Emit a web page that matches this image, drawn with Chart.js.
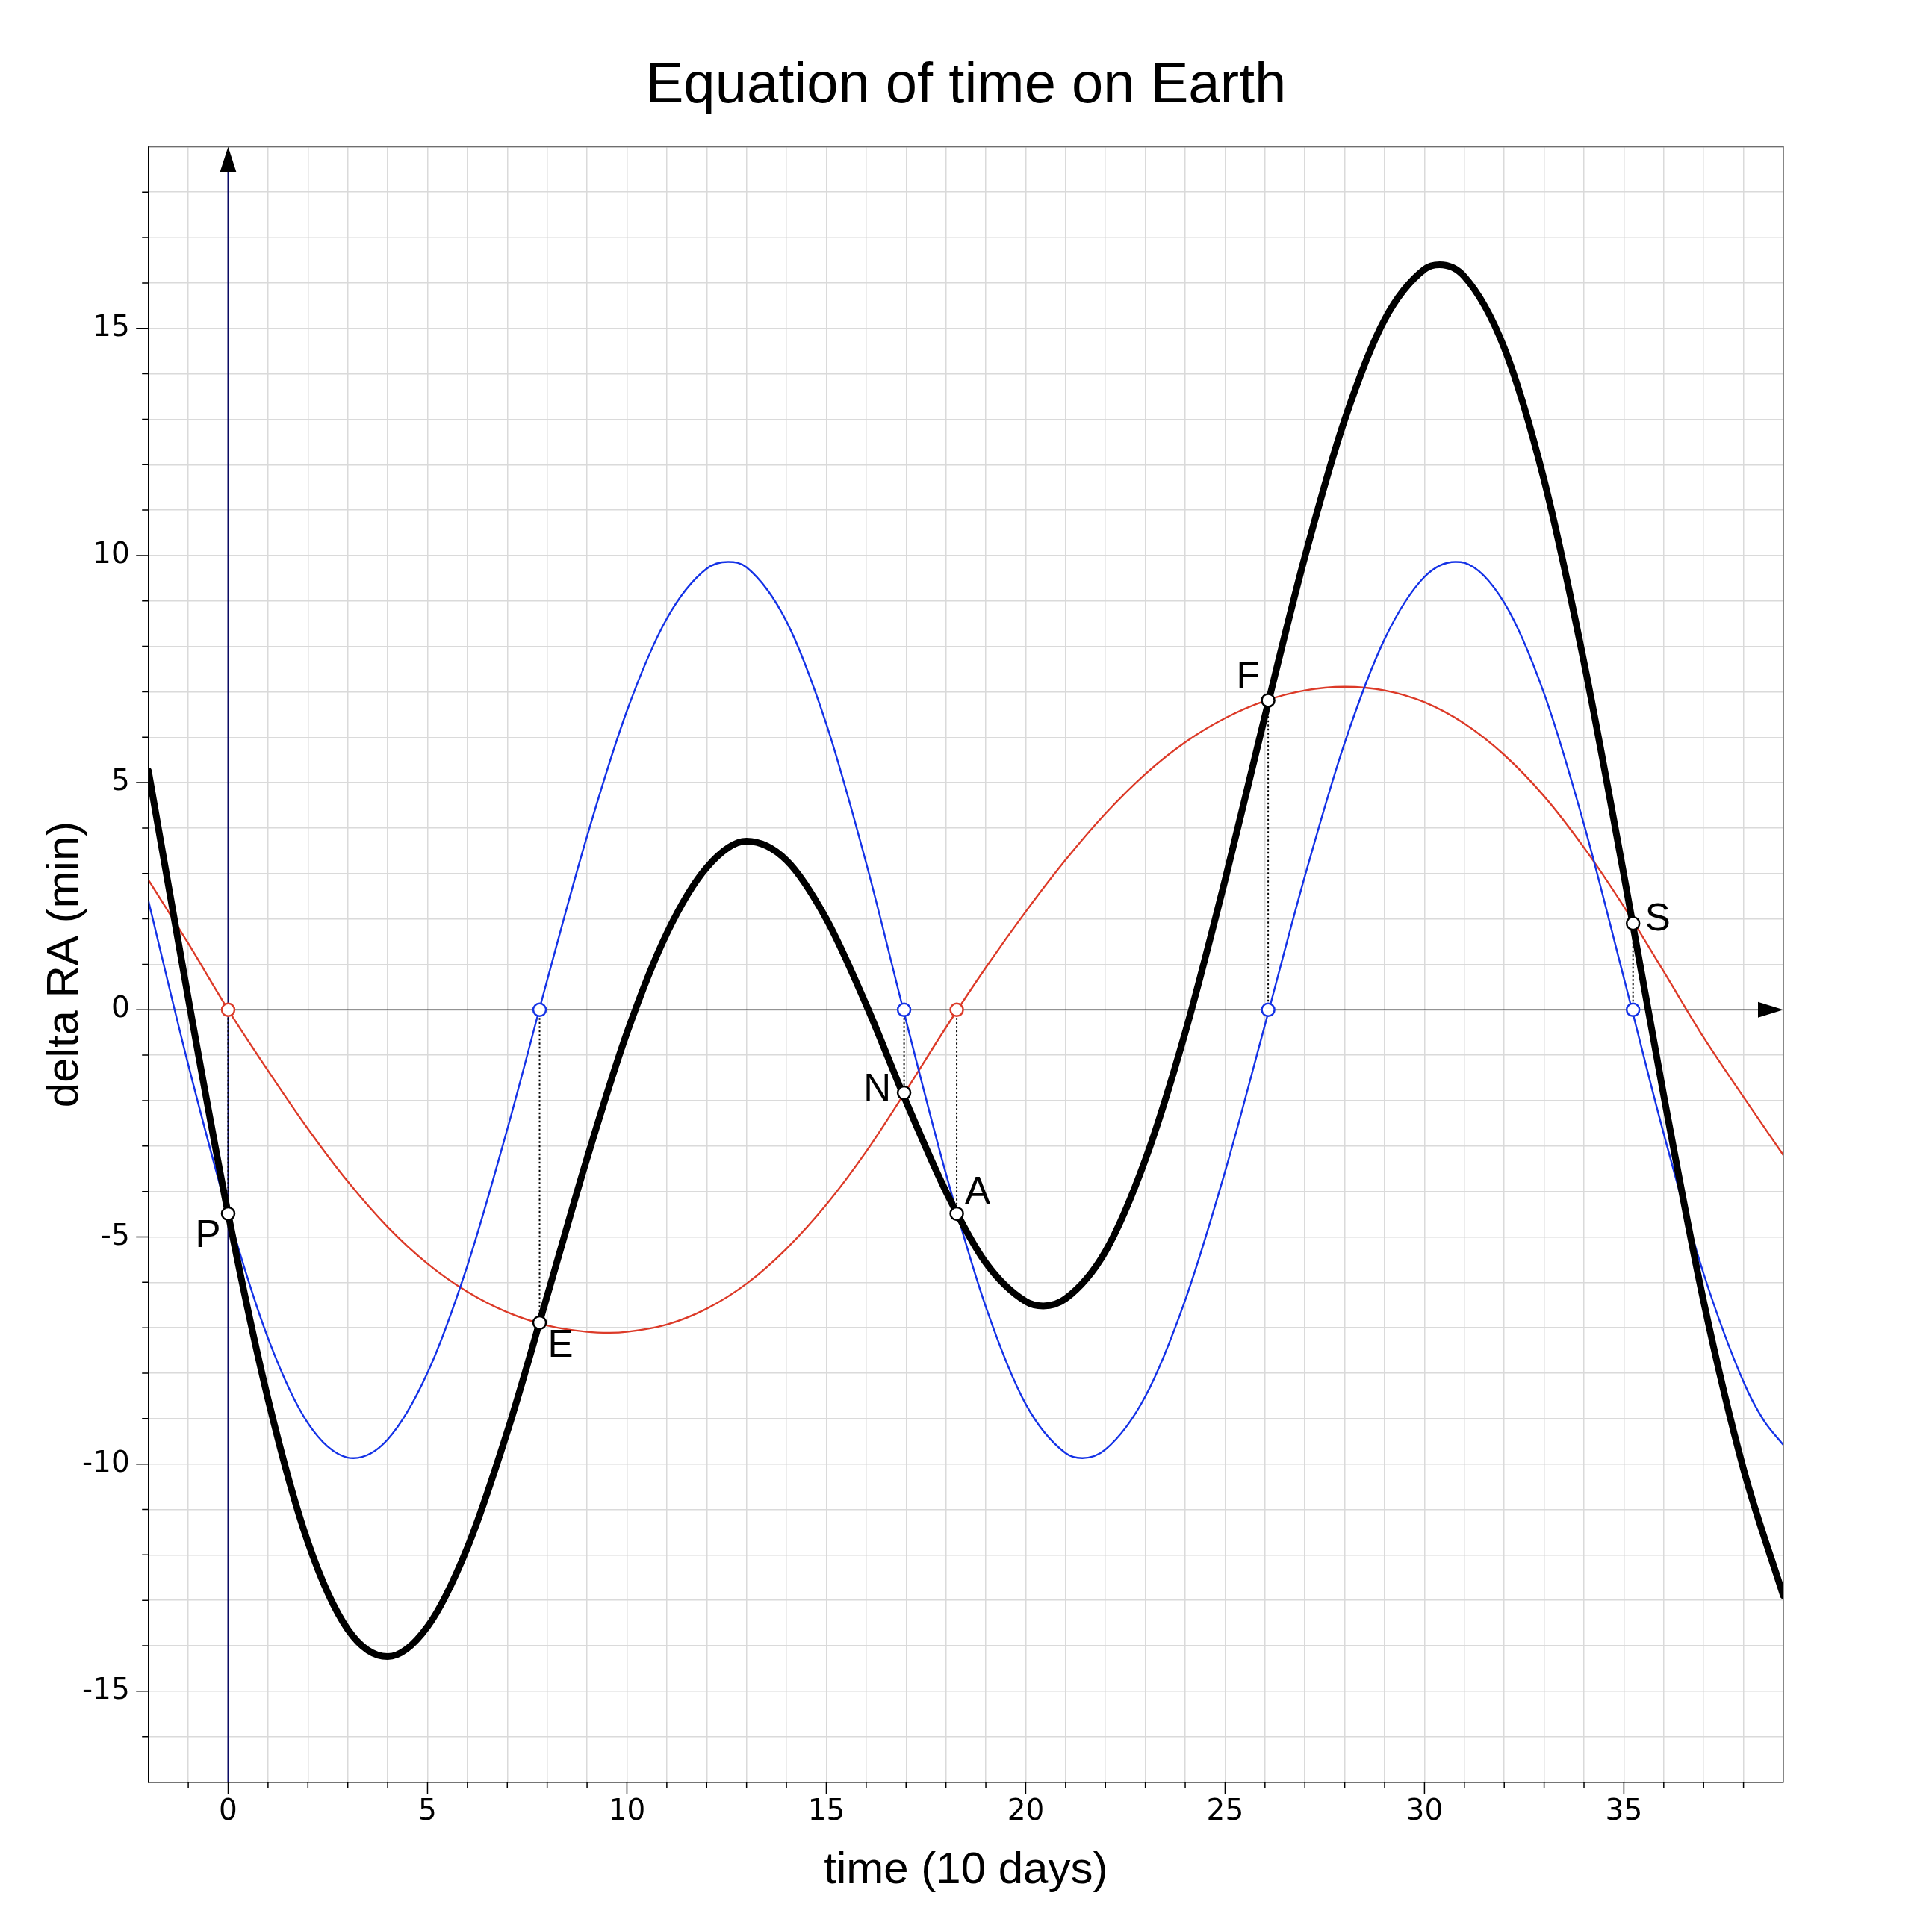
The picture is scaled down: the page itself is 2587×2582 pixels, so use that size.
<!DOCTYPE html>
<html>
<head>
<meta charset="utf-8">
<script src="https://cdn.jsdelivr.net/npm/chart.js@4.4.1/dist/chart.umd.min.js"></script>
<style>
html,body{margin:0;padding:0;background:#ffffff;}
#wrap{width:2587px;height:2582px;}
canvas{display:block;}
</style>
</head>
<body>
<div id="wrap"><canvas id="c" width="2587" height="2582"></canvas></div>
<script>
// ---------- data ----------
const xDays = [-2,-1,0,1,2,3,4,5,6,7,8,9,10,11,12,13,14,15,16,17,18,19,20,21,22,23,24,25,26,27,28,29,30,31,32,33,34,35,36,37,38,39];
// obliquity term (blue)
const blueValues = [2.40,-1.21,-4.49,-7.23,-9.10,-9.86,-9.46,-7.99,-5.63,-2.63,0.65,3.82,6.58,8.61,9.71,9.74,8.55,6.29,3.23,-0.24,-3.61,-6.54,-8.68,-9.76,-9.68,-8.51,-6.39,-3.56,-0.33,2.94,5.88,8.16,9.53,9.84,8.96,6.96,4.08,0.70,-2.73,-5.81,-8.19,-9.58];
const blueExtraX = [3.14,12.54,21.42,30.78,38.5];
const blueExtraY = [-9.87,9.86,-9.87,9.86,-9.03];
// eccentricity term (red)
const redValues = [2.86,1.46,0,-1.34,-2.62,-3.78,-4.78,-5.59,-6.21,-6.66,-6.95,-7.09,-7.09,-6.93,-6.58,-6.03,-5.26,-4.29,-3.12,-1.78,-0.39,0.93,2.16,3.30,4.32,5.19,5.89,6.42,6.80,7.03,7.11,7.03,6.77,6.30,5.61,4.70,3.57,2.27,0.84,-0.61,-1.92,-3.20];
const redExtraX = [9.57];
const redExtraY = [-7.11];
// equation of time (black)
const blackValues = [5.26,0.25,-4.49,-8.57,-11.72,-13.64,-14.24,-13.58,-11.84,-9.29,-6.30,-3.27,-0.51,1.68,3.13,3.71,3.29,2.00,0.11,-2.02,-4.00,-5.57,-6.42,-6.36,-5.32,-3.30,-0.50,2.86,6.47,9.97,12.99,15.19,16.30,16.14,14.57,11.66,7.65,2.97,-1.89,-6.42,-10.11,-12.90];
const blackExtraX = [20.44,30.38];
const blackExtraY = [-6.52,16.40];
// key points
const keyNames = ['P','E','N','A','F','S'];
const keyX = [0,7.81,16.95,18.27,26.08,35.23];
const keyY = [-4.49,-6.89,-1.83,-4.49,6.81,1.90];
const redZeroX = [0,18.27];
const blueZeroX = [7.81,16.95,26.08,35.23];
// axes
const xMin = -2, xMax = 39, yMin = -17, yMax = 19;
const tickLabelEvery = 5;

// ---------- styles ----------
const FONT = "'Liberation Sans', Arial, Helvetica, sans-serif";
const TICKFONT = "'DejaVu Sans', 'Liberation Sans', sans-serif";
const RED = '#dc3a28';
const BLUE = '#1432e6';
const NAVY = '#0a0a64';
const GRID = '#dadada';
const labelOffsets = [[-27,30],[28,31],[-36,-4],[28,-28],[-27,-30],[33,-5]];

function series(xs, ys, ex, ey) {
  const pts = xs.map((x, i) => ({x: x, y: ys[i]}));
  ex.forEach((x, i) => pts.push({x: x, y: ey[i]}));
  pts.sort((a, b) => a.x - b.x);
  return pts;
}

const curveBase = {
  type: 'line', pointRadius: 0, fill: false, clip: 0,
  cubicInterpolationMode: 'monotone', borderJoinStyle: 'round'
};

const datasets = [
  Object.assign({}, curveBase, {label: 'eccentricity', data: series(xDays, redValues, redExtraX, redExtraY), borderColor: RED, borderWidth: 2.4, order: 5}),
  Object.assign({}, curveBase, {label: 'obliquity', data: series(xDays, blueValues, blueExtraX, blueExtraY), borderColor: BLUE, borderWidth: 2.4, order: 4}),
  Object.assign({}, curveBase, {label: 'equation of time', data: series(xDays, blackValues, blackExtraX, blackExtraY), borderColor: '#000000', borderWidth: 9, borderCapStyle: 'round', order: 3})
];
keyX.forEach((x, i) => {
  datasets.push({type: 'line', data: [{x: x, y: 0}, {x: x, y: keyY[i]}], borderColor: '#000000', borderWidth: 2, borderDash: [2.5, 3], pointRadius: 0, tension: 0, order: 2});
});
datasets.push({type: 'line', showLine: false, data: redZeroX.map(x => ({x: x, y: 0})), pointRadius: 8.5, pointBorderWidth: 2.5, pointBackgroundColor: '#ffffff', pointBorderColor: RED, order: 1, clip: false});
datasets.push({type: 'line', showLine: false, data: blueZeroX.map(x => ({x: x, y: 0})), pointRadius: 8.5, pointBorderWidth: 2.5, pointBackgroundColor: '#ffffff', pointBorderColor: BLUE, order: 1, clip: false});
datasets.push({type: 'line', showLine: false, data: keyX.map((x, i) => ({x: x, y: keyY[i]})), pointRadius: 8.5, pointBorderWidth: 2.5, pointBackgroundColor: '#ffffff', pointBorderColor: '#000000', order: 0, clip: false});

function arrow(ctx, tipX, tipY, dirX, dirY, len, width) {
  const px = -dirY, py = dirX;
  ctx.beginPath();
  ctx.moveTo(tipX, tipY);
  ctx.lineTo(tipX - dirX * len + px * width / 2, tipY - dirY * len + py * width / 2);
  ctx.lineTo(tipX - dirX * len - px * width / 2, tipY - dirY * len - py * width / 2);
  ctx.closePath();
  ctx.fill();
}

const decor = {
  id: 'decor',
  beforeDatasetsDraw(chart) {
    const {ctx, chartArea: a, scales: {x, y}} = chart;
    const y0 = y.getPixelForValue(0), x0 = x.getPixelForValue(0);
    ctx.save();
    ctx.lineWidth = 1.6; ctx.strokeStyle = '#2a2a2a';
    ctx.beginPath(); ctx.moveTo(a.left, y0); ctx.lineTo(a.right - 20, y0); ctx.stroke();
    ctx.lineWidth = 2; ctx.strokeStyle = NAVY;
    ctx.beginPath(); ctx.moveTo(x0, a.bottom); ctx.lineTo(x0, a.top + 20); ctx.stroke();
    ctx.restore();
  },
  afterDatasetsDraw(chart) {
    const {ctx, scales: {x, y}} = chart;
    ctx.save();
    ctx.fillStyle = '#000000';
    ctx.font = '51px ' + FONT;
    ctx.textAlign = 'center'; ctx.textBaseline = 'middle';
    keyNames.forEach((n, i) => {
      ctx.fillText(n, x.getPixelForValue(keyX[i]) + labelOffsets[i][0], y.getPixelForValue(keyY[i]) + labelOffsets[i][1]);
    });
    arrow(ctx, x.getPixelForValue(xMax), y.getPixelForValue(0), 1, 0, 34, 21);
    arrow(ctx, x.getPixelForValue(0), y.getPixelForValue(yMax), 0, -1, 34, 22);
    ctx.restore();
  },
  afterDraw(chart) {
    const {ctx, chartArea: a, scales: {x, y}} = chart;
    ctx.save();
    ctx.strokeStyle = '#6e6e6e'; ctx.lineWidth = 1.6;
    ctx.beginPath(); ctx.moveTo(a.left, a.top); ctx.lineTo(a.right, a.top); ctx.lineTo(a.right, a.bottom); ctx.stroke();
    ctx.strokeStyle = '#000000'; ctx.lineWidth = 1.5;
    ctx.beginPath();
    x.ticks.forEach(t => {
      if (t.value === x.min || t.value === x.max) return;
      const p = x.getPixelForValue(t.value);
      const len = (t.value % tickLabelEvery === 0) ? 16.5 : 8.5;
      ctx.moveTo(p, a.bottom); ctx.lineTo(p, a.bottom + len);
    });
    y.ticks.forEach(t => {
      if (t.value === y.min || t.value === y.max) return;
      const p = y.getPixelForValue(t.value);
      const len = (t.value % tickLabelEvery === 0) ? 16.5 : 8.5;
      ctx.moveTo(a.left, p); ctx.lineTo(a.left - len, p);
    });
    ctx.stroke();
    ctx.restore();
  }
};

Chart.defaults.font.family = FONT;
Chart.defaults.color = '#000000';

new Chart(document.getElementById('c'), {
  type: 'line',
  data: {datasets: datasets},
  options: {
    responsive: false,
    animation: false,
    devicePixelRatio: 1,
    events: [],
    layout: {padding: 0},
    plugins: {
      legend: {display: false},
      tooltip: {enabled: false},
      title: {
        display: true,
        text: 'Equation of time on Earth',
        color: '#000000',
        font: {size: 76, weight: 'normal', family: FONT},
        padding: {top: 70, bottom: 35.2}
      }
    },
    scales: {
      x: {
        type: 'linear', min: xMin, max: xMax,
        afterFit: s => { s.height = 195.5; },
        ticks: {
          stepSize: 1, autoSkip: false, maxRotation: 0, minRotation: 0,
          padding: 17, color: '#000000', font: {size: 39, family: TICKFONT},
          callback: v => (v % tickLabelEvery === 0 ? String(v) : '')
        },
        grid: {color: GRID, lineWidth: 1.5, drawTicks: false},
        border: {display: true, color: '#000000', width: 1.6},
        title: {display: true, text: 'time (10 days)', color: '#000000', font: {size: 60, family: FONT}, padding: {top: 0, bottom: 41}}
      },
      y: {
        type: 'linear', min: yMin, max: yMax,
        afterFit: s => { s.width = 198.7; },
        ticks: {
          stepSize: 1, autoSkip: false,
          padding: 25, color: '#000000', font: {size: 39, family: TICKFONT},
          callback: v => (v % tickLabelEvery === 0 ? String(v) : '')
        },
        grid: {color: GRID, lineWidth: 1.5, drawTicks: false},
        border: {display: true, color: '#000000', width: 1.6},
        title: {display: true, text: 'delta RA (min)', color: '#000000', font: {size: 60, family: FONT}, padding: {top: 51, bottom: 0}}
      },
      yRight: {
        type: 'linear', position: 'right', min: yMin, max: yMax,
        afterFit: s => { s.width = 199; },
        ticks: {display: false},
        grid: {display: false},
        border: {display: false}
      }
    }
  },
  plugins: [decor]
});
</script>
</body>
</html>
